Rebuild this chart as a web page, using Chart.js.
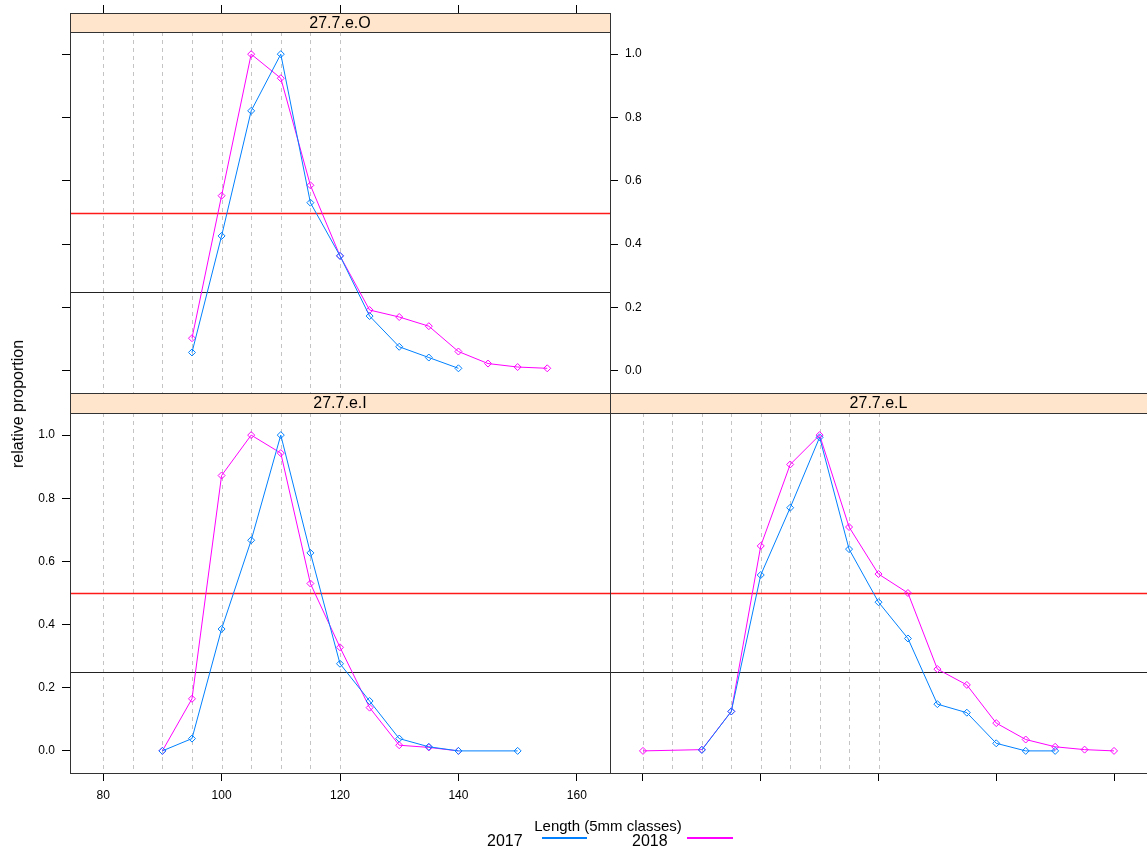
<!DOCTYPE html>
<html>
<head>
<meta charset="utf-8">
<script src="https://cdn.jsdelivr.net/npm/chart.js@4/dist/chart.umd.min.js"></script>
<style>
  body { margin: 0; background: #fff; font-family: "Liberation Sans", Arial, sans-serif; }
  #lienzo { position: relative; width: 1147px; height: 850px; overflow: hidden; background: #fff; }
  canvas { position: absolute; }
  .texto { position: absolute; color: #000; white-space: nowrap; line-height: 1; }
  .clave { position: absolute; height: 2px; }
</style>
</head>
<body>
<div id="lienzo">
  <canvas id="panelO" width="680" height="400" style="left:0;top:0"></canvas>
  <canvas id="panelI" width="640" height="470" style="left:0;top:380px"></canvas>
  <canvas id="panelL" width="557" height="470" style="left:600px;top:380px"></canvas>

  <div class="texto" style="left:18px;top:404px;font-size:16px;transform:translate(-50%,-50%) rotate(-90deg)">relative proportion</div>
  <div class="texto" style="left:608px;top:825px;font-size:15px;transform:translate(-50%,-50%)">Length (5mm classes)</div>
  <div class="texto" style="left:487px;top:833px;font-size:16px">2017</div>
  <div class="clave" style="left:542px;top:837px;width:45px;background:#0080ff"></div>
  <div class="texto" style="left:632px;top:833px;font-size:16px">2018</div>
  <div class="clave" style="left:687px;top:837px;width:46px;background:#ff00ff"></div>
</div>

<script>
// Clases de talla (mm) y proporción relativa
// Panel 27.7.e.O
const tallasO2017 = [95, 100, 105, 110, 115, 120, 125, 130, 135, 140];
const propO2017 = [0.058, 0.426, 0.821, 1.0, 0.531, 0.363, 0.173, 0.076, 0.042, 0.008];
const tallasO2018 = [95, 100, 105, 110, 115, 120, 125, 130, 135, 140, 145, 150, 155];
const propO2018 = [0.103, 0.553, 1.0, 0.924, 0.586, 0.363, 0.192, 0.170, 0.141, 0.061, 0.023, 0.012, 0.008];

// Panel 27.7.e.I
const tallasI2017 = [90, 95, 100, 105, 110, 115, 120, 125, 130, 135, 140, 150];
const propI2017 = [0.0, 0.039, 0.386, 0.667, 1.0, 0.627, 0.276, 0.158, 0.039, 0.013, 0.0, 0.0];
const tallasI2018 = [90, 95, 100, 105, 110, 115, 120, 125, 130, 135, 140];
const propI2018 = [0.0, 0.165, 0.872, 1.0, 0.943, 0.530, 0.328, 0.137, 0.018, 0.011, 0.0];

// Panel 27.7.e.L
const tallasL2017 = [90, 95, 100, 105, 110, 115, 120, 125, 130, 135, 140, 145, 150];
const propL2017 = [0.003, 0.125, 0.557, 0.770, 0.993, 0.639, 0.471, 0.356, 0.148, 0.121, 0.024, 0.0, 0.0];
const tallasL2018 = [80, 90, 95, 100, 105, 110, 115, 120, 125, 130, 135, 140, 145, 150, 155, 160];
const propL2018 = [0.0, 0.004, 0.125, 0.649, 0.907, 1.0, 0.709, 0.560, 0.500, 0.259, 0.209, 0.088, 0.036, 0.013, 0.004, 0.0];

// Marcas de los ejes y líneas de referencia
const ticksX = [80, 100, 120, 140, 160];
const ticksY = [0.0, 0.2, 0.4, 0.6, 0.8, 1.0];
const lineasV = [80, 85, 90, 95, 100, 105, 110, 115, 120];
const lineasH = [0.5, 0.25];

const fuente = '"Liberation Sans", Arial, sans-serif';
const X_MIN = 74.4, X_MAX = 165.6;
const Y_MIN = -0.07, Y_TOP = 1.07;

function marcas(valores) {
    return function (escala) { escala.ticks = valores.map(v => ({ value: v })); };
}

// Tamaño fijo del eje y sin relleno extra por las etiquetas
function fijar(prop, valor) {
    return function (escala) {
        escala[prop] = valor;
        escala.paddingTop = 0;
        escala.paddingBottom = 0;
        escala.paddingLeft = 0;
        escala.paddingRight = 0;
    };
}

function ejeX(pos, alto, etiquetas) {
    return {
        type: "linear", position: pos, min: X_MIN, max: X_MAX,
        afterBuildTicks: marcas(ticksX),
        afterFit: fijar("height", alto),
        grid: { drawOnChartArea: false, tickLength: 8, color: "#000", lineWidth: 1 },
        border: { display: false },
        ticks: { display: etiquetas, padding: 7, color: "#000", font: { family: fuente, size: 12 }, maxRotation: 0, autoSkip: false }
    };
}

function ejeY(pos, ancho, etiquetas, yMax, visible) {
    return {
        type: "linear", position: pos, min: Y_MIN, max: yMax, display: visible,
        afterBuildTicks: marcas(ticksY),
        afterFit: fijar("width", ancho),
        grid: { drawOnChartArea: false, tickLength: 8, color: "#000", lineWidth: 1 },
        border: { display: false },
        ticks: {
            display: etiquetas, padding: 7, color: "#000", font: { family: fuente, size: 12 },
            callback: v => v.toFixed(1)
        }
    };
}

function serie(etiqueta, tallas, props, color) {
    return {
        label: etiqueta,
        data: tallas.map((t, i) => ({ x: t, y: props[i] })),
        borderColor: color,
        borderWidth: 1,
        pointStyle: "rectRot",
        pointRadius: 3.5,
        pointBorderColor: color,
        pointBackgroundColor: "rgba(0,0,0,0)",
        pointBorderWidth: 1,
        tension: 0,
        xAxisID: "x",
        yAxisID: "y"
    };
}

// Dibuja la franja del título, el marco y las líneas de referencia
function pluginPanel(titulo) {
    return {
        id: "panel",
        beforeDatasetsDraw(chart) {
            const { ctx, chartArea: a, scales } = chart;
            const yTop = Math.round(scales.y.getPixelForValue(Y_TOP));
            ctx.save();
            ctx.lineWidth = 1;
            ctx.strokeStyle = "#c4c4c4";
            ctx.setLineDash([4, 4]);
            lineasV.forEach(v => {
                const px = Math.round(scales.x.getPixelForValue(v)) + 0.5;
                ctx.beginPath();
                ctx.moveTo(px, yTop);
                ctx.lineTo(px, a.bottom);
                ctx.stroke();
            });
            ctx.setLineDash([]);
            lineasH.forEach((v, i) => {
                const py = Math.round(scales.y.getPixelForValue(v)) + 0.5;
                ctx.strokeStyle = i === 0 ? "#ff1a1a" : "#222";
                ctx.lineWidth = i === 0 ? 1.5 : 1;
                ctx.beginPath();
                ctx.moveTo(a.left, py);
                ctx.lineTo(a.right, py);
                ctx.stroke();
            });
            ctx.restore();
        },
        afterDatasetsDraw(chart) {
            const { ctx, chartArea: a, scales } = chart;
            const yTop = Math.round(scales.y.getPixelForValue(Y_TOP));
            ctx.save();
            ctx.fillStyle = "#ffe5cc";
            ctx.fillRect(a.left, a.top, a.right - a.left, yTop - a.top);
            ctx.strokeStyle = "#333";
            ctx.lineWidth = 1;
            ctx.strokeRect(a.left + 0.5, a.top + 0.5, a.right - a.left, a.bottom - a.top);
            ctx.beginPath();
            ctx.moveTo(a.left, yTop + 0.5);
            ctx.lineTo(a.right + 1, yTop + 0.5);
            ctx.stroke();
            ctx.fillStyle = "#000";
            ctx.font = "16px " + fuente;
            ctx.textAlign = "center";
            ctx.textBaseline = "middle";
            ctx.fillText(titulo, (a.left + a.right) / 2, (a.top + yTop) / 2 + 1);
            ctx.restore();
        }
    };
}

function crearPanel(id, titulo, series, escalas, relleno) {
    return new Chart(document.getElementById(id), {
        type: "line",
        data: { datasets: series },
        options: {
            responsive: false,
            animation: false,
            layout: { padding: relleno },
            plugins: { legend: { display: false }, tooltip: { enabled: false } },
            scales: escalas
        },
        plugins: [pluginPanel(titulo)]
    });
}

// Alto de la franja en el rango de y
function yMaxCon(franja, altoPanel) {
    return Y_TOP + franja * (Y_TOP - Y_MIN) / altoPanel;
}

// Panel superior izquierdo
crearPanel("panelO", "27.7.e.O",
    [serie("2017", tallasO2017, propO2017, "#0080ff"), serie("2018", tallasO2018, propO2018, "#ff00ff")],
    {
        x: ejeX("top", 13, false),
        yl: ejeY("left", 70, false, yMaxCon(19, 361), true),
        y: ejeY("right", 70, true, yMaxCon(19, 361), true)
    },
    { top: 0, bottom: 7, left: 0, right: 0 });

// Panel inferior izquierdo
crearPanel("panelI", "27.7.e.I",
    [serie("2017", tallasI2017, propI2017, "#0080ff"), serie("2018", tallasI2018, propI2018, "#ff00ff")],
    {
        x: ejeX("bottom", 77, true),
        y: ejeY("left", 70, true, yMaxCon(20, 360), true)
    },
    { top: 13, bottom: 0, left: 0, right: 30 });

// Panel inferior derecho (el lienzo sobresale 10 px y se recorta)
crearPanel("panelL", "27.7.e.L",
    [serie("2017", tallasL2017, propL2017, "#0080ff"), serie("2018", tallasL2018, propL2018, "#ff00ff")],
    {
        x: ejeX("bottom", 77, false),
        y: ejeY("left", 0, false, yMaxCon(20, 360), false)
    },
    { top: 13, bottom: 0, left: 10, right: 10 });
</script>
</body>
</html>
